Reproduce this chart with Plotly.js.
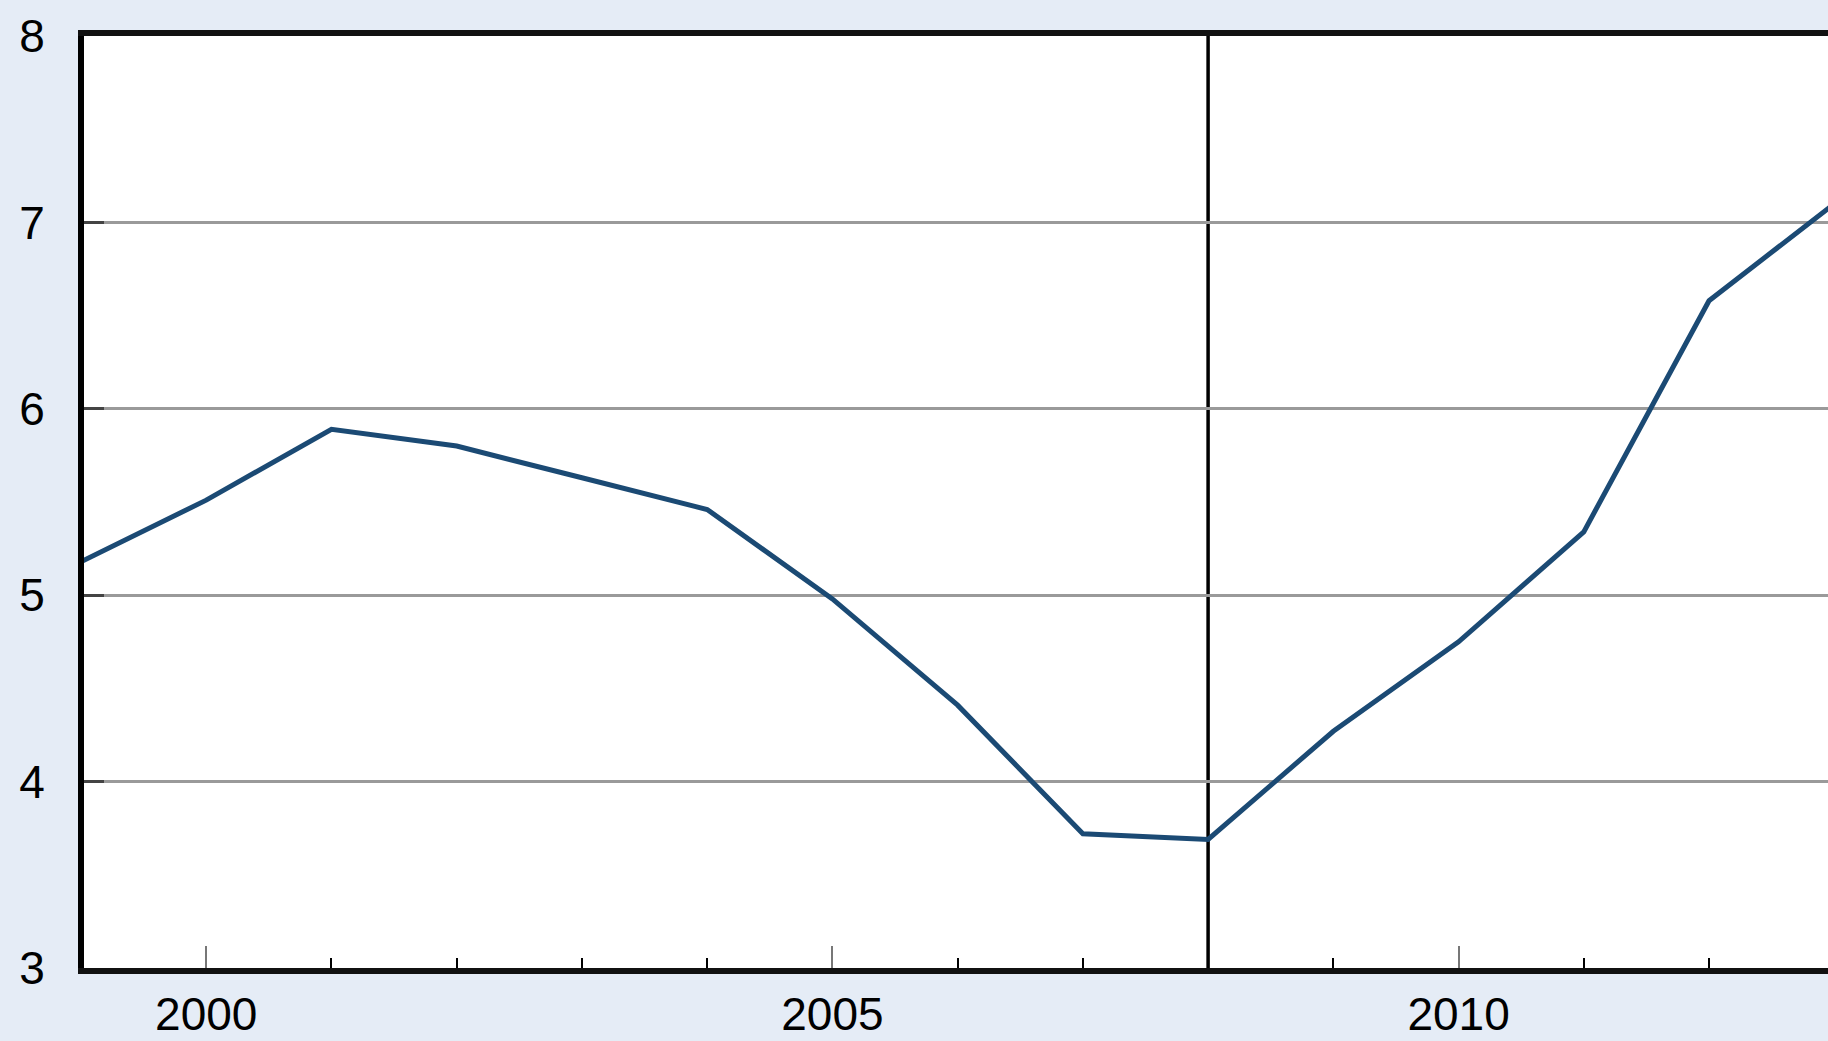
<!DOCTYPE html>
<html><head><meta charset="utf-8">
<script src="https://cdn.plot.ly/plotly-3.0.1.min.js"></script>
<style>html,body{margin:0;padding:0;background:#e5ecf6;}#chart{width:1828px;height:1041px;}</style>
</head><body><div id="chart"></div>
<script>
const years = [1999,2000,2001,2002,2003,2004,2005,2006,2007,2008,2009,2010,2011,2012,2013];
const values = [5.18,5.51,5.89,5.80,5.63,5.46,4.98,4.41,3.72,3.69,4.27,4.75,5.34,6.58,7.10];
const markerYear = 2008;
const xTickVals = [2000,2005,2010];
const xTickText = ['2000','2005','2010'];
const yTickVals = [3,4,5,6,7,8];
const yTickText = ['3','4','5','6','7','8'];

const font = {family:'"Liberation Sans", Arial, sans-serif', size:46, color:'#000'};
const trace = {x:years, y:values, type:'scatter', mode:'lines',
  line:{color:'#1b4a74', width:5}, hoverinfo:'skip'};
const layout = {
  width:1828, height:1041,
  margin:{l:84, r:0, t:36, b:73, pad:0},
  paper_bgcolor:'#e5ecf6', plot_bgcolor:'#ffffff',
  showlegend:false, font:font,
  xaxis:{range:[1999.024,2012.95], tickvals:xTickVals, ticktext:xTickText,
    ticks:'inside', ticklen:22, tickwidth:2, tickcolor:'#777',
    showgrid:false, zeroline:false, showline:true, linecolor:'#111', linewidth:6, mirror:true,
    ticklabelstandoff:1, tickfont:font,
    minor:{dtick:1, tick0:1999, ticks:'inside', ticklen:10, tickwidth:2, tickcolor:'#000', showgrid:false}},
  yaxis:{range:[3,8], tickvals:yTickVals, ticktext:yTickText,
    ticks:'inside', ticklen:20, tickwidth:3, tickcolor:'#444',
    showgrid:true, gridcolor:'#9a9a9a', gridwidth:3, zeroline:false,
    showline:true, linecolor:'#000', linewidth:6,
    ticklabelstandoff:24, tickfont:font},
  shapes:[{type:'line', xref:'x', yref:'paper', x0:markerYear, x1:markerYear, y0:0, y1:1,
    line:{color:'#000', width:3.5}, layer:'below'}]
};
Plotly.newPlot('chart',[trace],layout,{displayModeBar:false, staticPlot:true});
</script></body></html>
